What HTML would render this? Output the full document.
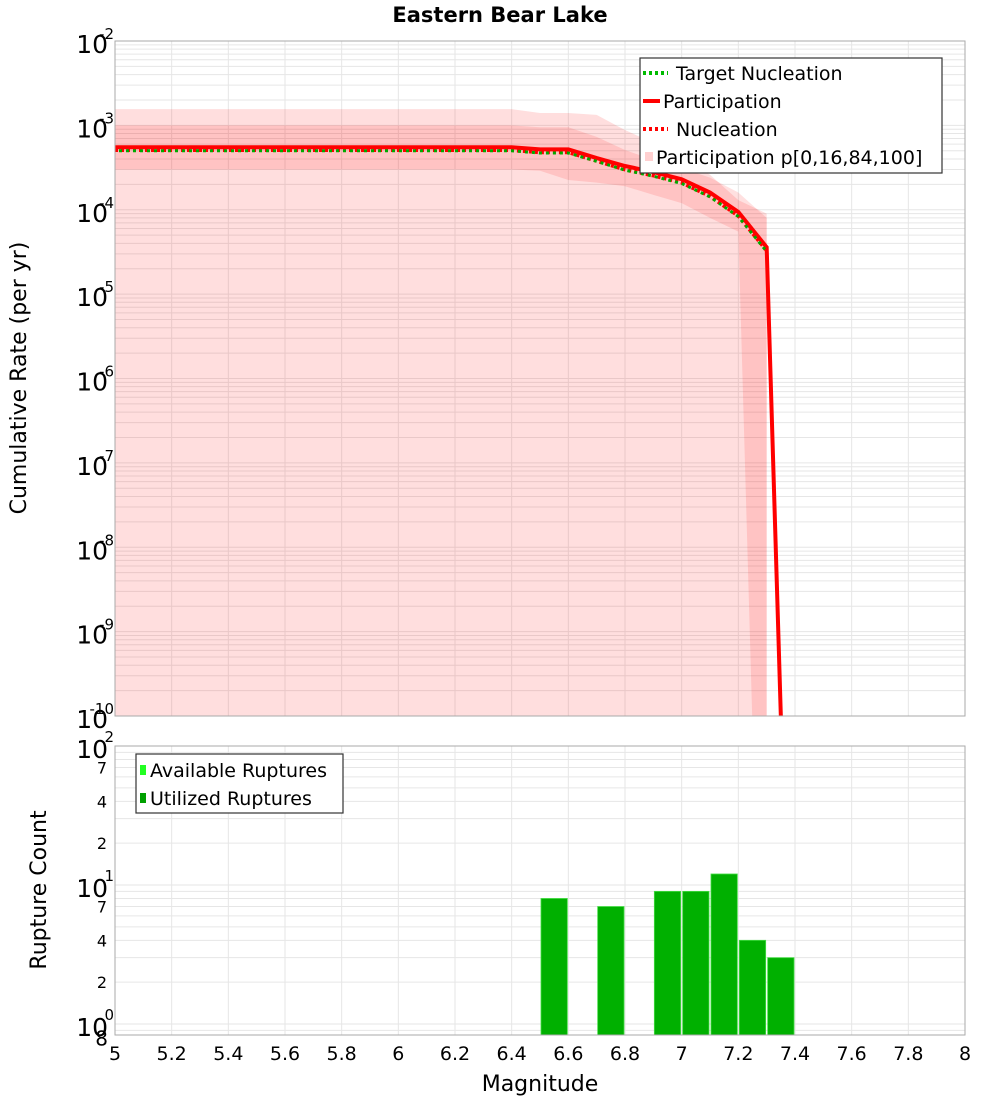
<!DOCTYPE html>
<html><head><meta charset="utf-8"><style>
body{margin:0;background:#fff;}
svg{display:block;font-family:"DejaVu Sans","Liberation Sans",sans-serif;}
</style></head><body>
<svg id="chart" width="1000" height="1100" viewBox="0 0 1000 1100" xmlns="http://www.w3.org/2000/svg">
<text x="500" y="22" text-anchor="middle" font-size="21" font-weight="bold">Eastern Bear Lake</text>
<g id="topG"></g>
<g id="botG"></g>
<text transform="translate(26,378) rotate(-90)" text-anchor="middle" font-size="22">Cumulative Rate (per yr)</text>
<text transform="translate(46,890) rotate(-90)" text-anchor="middle" font-size="22">Rupture Count</text>
<text x="540" y="1091" text-anchor="middle" font-size="22">Magnitude</text>
</svg>
<script>
const mags = [5,5.1,5.2,5.3,5.4,5.5,5.6,5.7,5.8,5.9,6,6.1,6.2,6.3,6.4,6.5,6.6,6.7,6.8,6.9,7.0,7.1,7.2,7.3];
const participation = [5.5e-4,5.5e-4,5.5e-4,5.5e-4,5.5e-4,5.5e-4,5.5e-4,5.5e-4,5.5e-4,5.5e-4,5.5e-4,5.5e-4,5.5e-4,5.5e-4,5.5e-4,5.2e-4,5.2e-4,4.1e-4,3.3e-4,2.8e-4,2.3e-4,1.6e-4,9.4e-5,3.6e-5];
const partTailMag = [7.3,7.35];
const partTail = [3.6e-5,1e-10];
const nucleation = [5.1e-4,5.1e-4,5.1e-4,5.1e-4,5.1e-4,5.1e-4,5.1e-4,5.1e-4,5.1e-4,5.1e-4,5.1e-4,5.1e-4,5.1e-4,5.1e-4,5.1e-4,4.8e-4,4.8e-4,3.8e-4,3.0e-4,2.55e-4,2.1e-4,1.45e-4,8.5e-5,3.3e-5];
const targetNucleation = [5.0e-4,5.0e-4,5.0e-4,5.0e-4,5.0e-4,5.0e-4,5.0e-4,5.0e-4,5.0e-4,5.0e-4,5.0e-4,5.0e-4,5.0e-4,5.0e-4,5.0e-4,4.7e-4,4.7e-4,3.75e-4,2.95e-4,2.5e-4,2.05e-4,1.42e-4,8.3e-5,3.2e-5];
const p0 = [1e-10,1e-10,1e-10,1e-10,1e-10,1e-10,1e-10,1e-10,1e-10,1e-10,1e-10,1e-10,1e-10,1e-10,1e-10,1e-10,1e-10,1e-10,1e-10,1e-10,1e-10,1e-10,1e-10,1e-12];
const p100 = [1.56e-3,1.56e-3,1.56e-3,1.56e-3,1.56e-3,1.56e-3,1.56e-3,1.56e-3,1.56e-3,1.56e-3,1.56e-3,1.56e-3,1.56e-3,1.56e-3,1.56e-3,1.4e-3,1.4e-3,1.33e-3,8.8e-4,6.2e-4,4.2e-4,2.6e-4,1.3e-4,9e-5];
const p16 = [3.0e-4,3.0e-4,3.0e-4,3.0e-4,3.0e-4,3.0e-4,3.0e-4,3.0e-4,3.0e-4,3.0e-4,3.0e-4,3.0e-4,3.0e-4,3.0e-4,3.0e-4,2.9e-4,2.25e-4,2.1e-4,1.9e-4,1.5e-4,1.2e-4,8e-5,5.5e-5,1e-16];
const p84 = [1.0e-3,1.0e-3,1.0e-3,1.0e-3,1.0e-3,1.0e-3,1.0e-3,1.0e-3,1.0e-3,1.0e-3,1.0e-3,1.0e-3,1.0e-3,1.0e-3,1.0e-3,9.5e-4,9.5e-4,7.3e-4,5.1e-4,3.9e-4,3.1e-4,2.4e-4,1.6e-4,8e-5];
const barMags = [6.55,6.75,6.95,7.05,7.15,7.25,7.35];
const barCounts = [8,7,9,9,12,4,3];
const xTicks = [5,5.2,5.4,5.6,5.8,6,6.2,6.4,6.6,6.8,7,7.2,7.4,7.6,7.8,8];
const topExps = [-2,-3,-4,-5,-6,-7,-8,-9,-10];
const botMinorLabels = [7,4,2];

const NS='http://www.w3.org/2000/svg';
const L=115,R=965,T1=41,B1=716,T2=746,B2=1035;
const xs=m=>L+(m-5)*(R-L)/3;
const yT=v=>T1+(-2-Math.log10(v))*(B1-T1)/8;
const yB=v=>T2+(2-Math.log10(v))*139;
function mk(parent,tag,attrs){const e=document.createElementNS(NS,tag);for(const k in attrs)e.setAttribute(k,attrs[k]);parent.appendChild(e);return e;}
const svgEl=document.getElementById('chart');
const defs=mk(svgEl,'defs',{});
const c1=mk(defs,'clipPath',{id:'c1'});mk(c1,'rect',{x:L,y:T1,width:R-L,height:B1-T1});
const c2=mk(defs,'clipPath',{id:'c2'});mk(c2,'rect',{x:L,y:T2,width:R-L,height:B2-T2});
const topG=document.getElementById('topG'), botG=document.getElementById('botG');

const g1=mk(topG,'g',{});


for(let e=-10;e<-2;e++){for(let k=1;k<10;k++){const y=yT(k*Math.pow(10,e));mk(g1,'line',{x1:L,x2:R,y1:y,y2:y,stroke:'#e6e6e6','stroke-width':1});}}
xTicks.forEach(m=>{mk(g1,'line',{x1:xs(m),x2:xs(m),y1:T1,y2:B1,stroke:'#e6e6e6','stroke-width':1});});
const cg=mk(topG,'g',{'clip-path':'url(#c1)'});
function band(lo,hi,fill,name){let d='';mags.forEach((m,i)=>{d+=(i?'L':'M')+xs(m)+','+yT(hi[i]);});for(let i=mags.length-1;i>=0;i--)d+='L'+xs(mags[i])+','+yT(lo[i]);d+='Z';const p=mk(cg,'path',{d:d,fill:fill});

}
band(p0,p100,'rgba(255,0,0,0.13)','band-p0-p100');
band(p16,p84,'rgba(255,0,0,0.12)','band-p16-p84');
function line(ms,vs,attrs,name){const pts=ms.map((m,i)=>xs(m)+','+yT(vs[i])).join(' ');const p=mk(cg,'polyline',Object.assign({points:pts,fill:'none'},attrs));

}
line(mags.concat(partTailMag.slice(1)),participation.concat(partTail.slice(1)),{stroke:'#ff0000','stroke-width':4},'participation-line');
line(mags,nucleation,{stroke:'#ff0000','stroke-width':4,'stroke-dasharray':'3,3'},'nucleation-line');
line(mags,targetNucleation,{stroke:'#00aa00','stroke-width':3,'stroke-dasharray':'3,4','stroke-dashoffset':3},'target-nucleation-line');
mk(topG,'rect',{x:L,y:T1,width:R-L,height:B1-T1,fill:'none',stroke:'#aaa','stroke-width':1});
topExps.forEach(e=>{const y=yT(Math.pow(10,e));const t=mk(topG,'text',{x:108,y:y+12,'text-anchor':'end','font-size':25});t.textContent='10';


const s=mk(topG,'text',{x:114,y:y-2,'text-anchor':'end','font-size':15});s.textContent=String(e);

});
const lg=mk(topG,'g',{});


mk(lg,'rect',{x:640,y:58,width:302,height:115,fill:'#fff',stroke:'#333','stroke-width':1.2});
const le=[['Target Nucleation','#00bb00','3,3',676,73],['Participation','#ff0000','',663,101],['Nucleation','#ff0000','3,3',676,129]];
le.forEach(a=>{mk(lg,'line',{x1:643,x2:a[0]==='Participation'?660:668,y1:a[4],y2:a[4],stroke:a[1],'stroke-width':4,'stroke-dasharray':a[2]});const t=mk(lg,'text',{x:a[3],y:a[4]+7,'font-size':19});t.textContent=a[0];

});
mk(lg,'rect',{x:645,y:152,width:8,height:9,fill:'#ffd0d0'});
const tl=mk(lg,'text',{x:656,y:164,'font-size':19});tl.textContent='Participation p[0,16,84,100]';



const g2=mk(botG,'g',{});


for(let e=-1;e<2;e++){for(let k=1;k<10;k++){const v=k*Math.pow(10,e);const y=yB(v);if(y<T2-0.5||y>B2)continue;mk(g2,'line',{x1:L,x2:R,y1:y,y2:y,stroke:'#e6e6e6','stroke-width':1});}}
xTicks.forEach(m=>{mk(g2,'line',{x1:xs(m),x2:xs(m),y1:T2,y2:B2,stroke:'#e6e6e6','stroke-width':1});});
const bg=mk(botG,'g',{'clip-path':'url(#c2)'});
barMags.forEach((m,i)=>{const x0=xs(m-0.05)+1,x1=xs(m+0.05)-1;const r=mk(bg,'rect',{x:x0,y:yB(barCounts[i]),width:x1-x0,height:B2-yB(barCounts[i]),fill:'#00b000',stroke:'#44dd44','stroke-width':0.8});

});
mk(botG,'rect',{x:L,y:T2,width:R-L,height:B2-T2,fill:'none',stroke:'#aaa','stroke-width':1});
[2,1,0].forEach(e=>{const y=yB(Math.pow(10,e));const t=mk(botG,'text',{x:108,y:y+12,'text-anchor':'end','font-size':25});t.textContent='10';


const s=mk(botG,'text',{x:114,y:y-4,'text-anchor':'end','font-size':15});s.textContent=String(e);

});
[1,0].forEach(e=>{botMinorLabels.forEach(k=>{const y=yB(k*Math.pow(10,e));const t=mk(botG,'text',{x:107,y:y+6,'text-anchor':'end','font-size':16});t.textContent=String(k);

});});
const t8=mk(botG,'text',{x:108,y:yB(0.8)+8,'text-anchor':'end','font-size':20});t8.textContent='8';


xTicks.forEach(m=>{const t=mk(botG,'text',{x:xs(m),y:1060,'text-anchor':'middle','font-size':19});t.textContent=String(m);

});
const lg2=mk(botG,'g',{});


mk(lg2,'rect',{x:136,y:754,width:207,height:59,fill:'#fff',stroke:'#333','stroke-width':1.2});
mk(lg2,'rect',{x:140,y:765,width:6,height:10,fill:'#22ff22'});
mk(lg2,'rect',{x:140,y:793,width:6,height:10,fill:'#00a000'});
const a1=mk(lg2,'text',{x:150,y:777,'font-size':19});a1.textContent='Available Ruptures';


const a2=mk(lg2,'text',{x:150,y:805,'font-size':19});a2.textContent='Utilized Ruptures';


</script>
</body></html>
